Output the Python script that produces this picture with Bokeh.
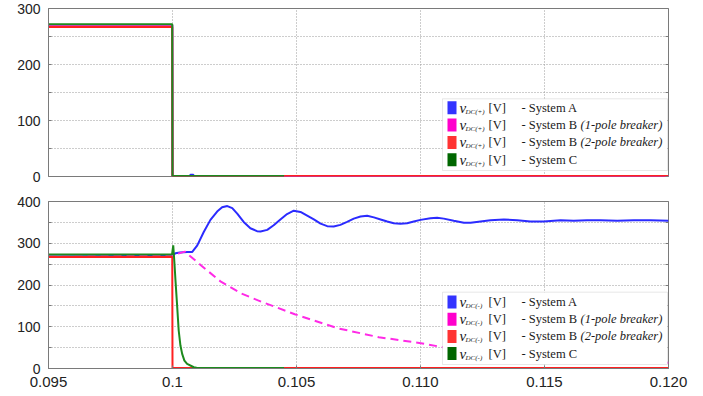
from bokeh.plotting import figure
from bokeh.layouts import column
from bokeh.models import Range1d, FixedTicker, LinearAxis, BoxAnnotation, Label
from bokeh.embed import file_html
from bokeh.resources import INLINE

# ---------------- data ----------------
X_TICKS = [0.095, 0.1, 0.105, 0.11, 0.115, 0.12]
X_TICK_LABELS = ["0.095", "0.1", "0.105", "0.110", "0.115", "0.120"]
Y_MAJOR_TOP = [0, 100, 200, 300]
Y_MINOR_TOP = [50, 150, 250]
Y_MAJOR_BOT = [0, 100, 200, 300, 400]
Y_MINOR_BOT = [50, 150, 250, 350]

# top panel: v_DC(+)
top_A_t = [0.095, 0.09999, 0.1, 0.1007, 0.10072, 0.10084, 0.10086, 0.12]
top_A_v = [270, 270, 1, 1, 3, 3, 1, 1]
top_B1_t = [0.095, 0.09999, 0.1, 0.12]
top_B1_v = [270, 270, 1, 1]
top_B2_t = [0.095, 0.09999, 0.1, 0.12]
top_B2_v = [267, 267, 1, 1]
top_C_t = [0.095, 0.09999, 0.1, 0.1045]
top_C_v = [272, 272, 1, 1]

# bottom panel: v_DC(-)
bot_A_t = [0.095, 0.1, 0.10012, 0.1003, 0.1006, 0.10079, 0.10100, 0.10126, 0.10153,
           0.10180, 0.10200, 0.10221, 0.10241, 0.10261, 0.10287, 0.10314, 0.10341,
           0.10355, 0.10382, 0.10408, 0.10435, 0.10462, 0.10489, 0.10516, 0.10543,
           0.10570, 0.10597, 0.10624, 0.10650, 0.10677, 0.10704, 0.10731, 0.10758,
           0.10785, 0.10812, 0.10839, 0.10866, 0.10892, 0.10919, 0.10946, 0.10973,
           0.11000, 0.11040, 0.11067, 0.11094, 0.11134, 0.11175, 0.11202, 0.11242,
           0.11282, 0.11336, 0.11390, 0.11443, 0.11497, 0.11565, 0.11618, 0.11672,
           0.11726, 0.11793, 0.11860, 0.11927, 0.12]
bot_A_v = [268, 270, 276, 278, 279, 279, 295, 327, 356,
           376, 386, 389, 384, 371, 351, 336, 329,
           328, 332, 343, 357, 370, 378, 375, 366,
           357, 347, 341, 340, 344, 351, 359, 364,
           366, 362, 357, 352, 348, 347, 348, 352,
           356, 360, 361, 359, 354, 349, 349, 352,
           355, 357, 355, 352, 352, 355, 354, 355,
           355, 354, 355, 355, 354]
bot_B1_t = [0.095, 0.1, 0.10005, 0.1005, 0.10113, 0.10195, 0.10276, 0.10358,
            0.10493, 0.10669, 0.10832, 0.11008, 0.1109, 0.113, 0.116, 0.12]
bot_B1_v = [268, 270, 272, 280, 248, 208, 180, 160,
            130, 96, 75, 60, 51, 36, 23, 14]
bot_B2_t = [0.095, 0.09999, 0.1, 0.12]
bot_B2_v = [267, 267, 1, 1]
bot_C_t = [0.095, 0.09998, 0.10003, 0.10008, 0.10012, 0.10019, 0.10025, 0.10032,
           0.10039, 0.10048, 0.10059, 0.10086, 0.101, 0.1045]
bot_C_v = [273, 273, 295, 251, 211, 147, 91, 55,
           35, 19, 11, 3, 1, 1]

LINE_COLORS = ["#2b2bff", "#ff2ae6", "#ff2020", "#1d8a1d"]
LEG_COLORS = ["#3333ff", "#ff00cc", "#ff3333", "#006600"]
SYSTEMS = ["- System A", "- System B", "- System B", "- System C"]
SYS_ITALIC = ["", "(1-pole breaker)", "(2-pole breaker)", ""]

X0, X1 = 0.095, 0.12
FL, FR = 48, 668  # frame left/right pixels
GRAY = "#7a7a7a"


def px2x(px):
    return X0 + (px - FL) / (FR - FL) * (X1 - X0)


def py_top(py):
    return (176 - py) / 168 * 300


def py_bot(py):
    return (368 - py) / 167 * 400


def make_fig(height, ymax, ymajor, yminor, border_top, border_bottom, show_x):
    p = figure(width=703, height=height, output_backend="svg", toolbar_location=None,
               x_range=Range1d(X0, X1), y_range=Range1d(0, ymax),
               min_border_left=FL, min_border_right=703 - FR,
               min_border_top=border_top, min_border_bottom=border_bottom)
    p.background_fill_color = "white"
    p.border_fill_color = "white"
    p.outline_line_color = GRAY
    p.outline_line_width = 1

    xt = FixedTicker(ticks=X_TICKS)
    yt = FixedTicker(ticks=ymajor, minor_ticks=yminor)
    p.xaxis.ticker = xt
    p.yaxis.ticker = yt
    p.xgrid.ticker = xt
    p.ygrid.ticker = yt
    for g in (p.xgrid, p.ygrid):
        g.grid_line_color = "#9a9a9a"
        g.grid_line_dash = "1 2"
        g.grid_line_width = 1
    p.ygrid.minor_grid_line_color = "#9a9a9a"
    p.ygrid.minor_grid_line_dash = "1 2"
    p.ygrid.minor_grid_line_width = 1

    p.yaxis.major_label_text_font = "Liberation Sans"
    p.yaxis.major_label_text_font_size = "14px"
    p.yaxis.major_label_text_color = "#222222"
    p.yaxis.major_label_standoff = 8
    p.yaxis.major_tick_in = 3
    p.yaxis.major_tick_out = 0
    p.yaxis.minor_tick_in = 3
    p.yaxis.minor_tick_out = 0
    p.yaxis.axis_line_color = GRAY
    p.yaxis.major_tick_line_color = GRAY
    p.yaxis.minor_tick_line_color = GRAY

    if show_x:
        p.xaxis.major_label_overrides = dict(zip(X_TICKS, X_TICK_LABELS))
        p.xaxis.major_label_text_font = "Liberation Sans"
        p.xaxis.major_label_text_font_size = "15px"
        p.xaxis.major_label_text_color = "#222222"
        p.xaxis.major_label_standoff = 8
        p.xaxis.major_tick_in = 3
        p.xaxis.major_tick_out = 0
        p.xaxis.minor_tick_line_color = None
        p.xaxis.axis_line_color = GRAY
        p.xaxis.major_tick_line_color = GRAY
    else:
        p.xaxis.visible = False

    rax = LinearAxis(ticker=FixedTicker(ticks=[], minor_ticks=ymajor + yminor),
                     minor_tick_in=3, minor_tick_out=0, major_tick_in=0, major_tick_out=0,
                     axis_line_color=None, major_label_standoff=0,
                     minor_tick_line_color=GRAY)
    p.add_layout(rax, "right")
    return p


def add_lines(p, series, dashed_b1):
    for i, ((t, v), col) in enumerate(zip(series, LINE_COLORS)):
        dash = "8 5" if (i == 1 and dashed_b1) else "solid"
        p.line(t, v, line_color=col, line_width=2, line_dash=dash)


def add_legend(p, ymap, box_py, rows_py, sub):
    p.add_layout(BoxAnnotation(left=px2x(442), right=px2x(667),
                               top=ymap(box_py[0]), bottom=ymap(box_py[1]),
                               fill_color="white", fill_alpha=1.0,
                               line_color="#b4b4b4", line_width=1))
    common = dict(text_font="Liberation Serif", text_color="#1a1a1a",
                  text_baseline="middle", text_align="left")
    for i in range(4):
        cy = rows_py[i]
        p.add_layout(BoxAnnotation(left=px2x(447), right=px2x(456),
                                   top=ymap(cy - 6.5), bottom=ymap(cy + 6.5),
                                   fill_color=LEG_COLORS[i], fill_alpha=1.0,
                                   line_color=None))
        p.add_layout(Label(x=px2x(459), y=ymap(cy), text="v", text_font_size="15px",
                           text_font_style="italic", **common))
        p.add_layout(Label(x=px2x(465), y=ymap(cy + 4), text=sub, text_font_size="7px",
                           text_font_style="italic", **common))
        p.add_layout(Label(x=px2x(488), y=ymap(cy), text="[V]", text_font_size="12.5px",
                           **common))
        p.add_layout(Label(x=px2x(521), y=ymap(cy), text=SYSTEMS[i], text_font_size="12.5px",
                           **common))
        if SYS_ITALIC[i]:
            p.add_layout(Label(x=px2x(580), y=ymap(cy), text=SYS_ITALIC[i],
                               text_font_size="12.5px", text_font_style="italic", **common))


p_top = make_fig(190, 300, Y_MAJOR_TOP, Y_MINOR_TOP, 8, 14, False)
p_bot = make_fig(206, 400, Y_MAJOR_BOT, Y_MINOR_BOT, 11, 28, True)

add_lines(p_top, [(top_A_t, top_A_v), (top_B1_t, top_B1_v), (top_B2_t, top_B2_v),
                  (top_C_t, top_C_v)], False)
add_lines(p_bot, [(bot_A_t, bot_A_v), (bot_B1_t, bot_B1_v), (bot_B2_t, bot_B2_v),
                  (bot_C_t, bot_C_v)], True)

add_legend(p_top, py_top, (98.3, 170), [107.3, 124.6, 141.9, 159.2], "DC(+)")
add_legend(p_bot, py_bot, (291.7, 364), [301.5, 318.7, 335.9, 353.1], "DC(-)")

layout = column(p_top, p_bot, spacing=0)
open("out.html", "w").write(file_html(layout, INLINE))
